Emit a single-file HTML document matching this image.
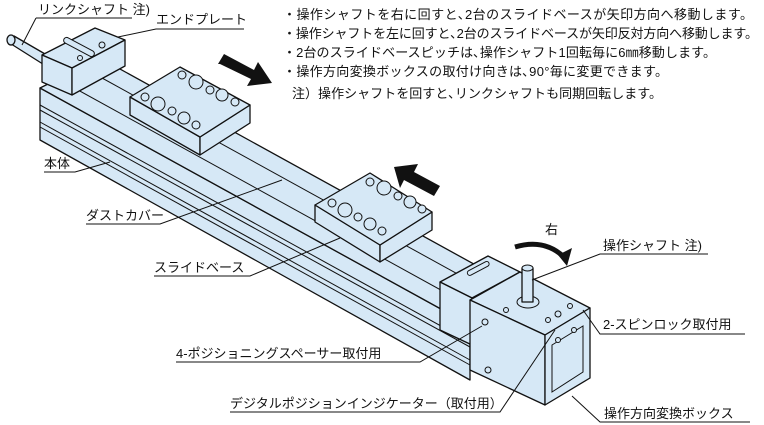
<!DOCTYPE html>
<html><head><meta charset="utf-8"><style>
body{margin:0;background:#fff}
svg{display:block}
text{font-family:"Liberation Sans","Noto Sans CJK JP",sans-serif;font-size:13px;fill:#111}
.b{fill:#d6e8f6;stroke:#111;stroke-width:1.3;stroke-linejoin:round}
.l{stroke:#111;stroke-width:1;fill:none}
.h{fill:#d6e8f6;stroke:#111;stroke-width:1}
</style></head><body>
<svg width="764" height="425" viewBox="0 0 764 425">
<polygon class="b" points="8,42 14,36 52,58 46,66"/>
<ellipse class="b" cx="11" cy="40" rx="4" ry="5"/>
<polygon class="b" points="40,88 470,325 470,380 40,140"/>
<line class="l" x1="40" y1="105" x2="470" y2="342"/>
<line class="l" x1="40" y1="110" x2="470" y2="347"/>
<line class="l" x1="40" y1="122" x2="470" y2="360"/>
<line class="l" x1="40" y1="127" x2="470" y2="365"/>
<polygon class="b" points="40,88 100,58 530,295 470,325"/>
<line class="l" x1="58" y1="79" x2="488" y2="316"/>
<line class="l" x1="82" y1="67" x2="512" y2="304"/>
<polygon class="b" points="42,55 95,28 125,40 72,68"/>
<polygon class="b" points="42,55 72,68 72,95 42,82"/>
<polygon class="b" points="72,68 125,40 125,66 72,95"/>
<rect class="h" x="62" y="44" width="34" height="6" rx="3" transform="rotate(28 79 47)"/>
<circle class="h" cx="102" cy="45" r="3"/><circle class="h" cx="80" cy="58" r="2.5"/>
<polygon class="b" points="130,97 200,137 200,155 130,115"/>
<polygon class="b" points="200,137 250,105 250,123 200,155"/>
<polygon class="b" points="130,97 180,67 250,105 200,137"/>
<g class="h"><circle cx="182" cy="75" r="4"/><circle cx="196" cy="82" r="7"/><circle cx="210" cy="90" r="4"/><circle cx="222" cy="95" r="6"/><circle cx="235" cy="102" r="4"/>
<circle cx="145" cy="97" r="4"/><circle cx="158" cy="104" r="7"/><circle cx="172" cy="111" r="4"/><circle cx="184" cy="118" r="6"/><circle cx="196" cy="125" r="4"/></g>
<polygon class="b" points="315,205 380,245 380,262 315,222"/>
<polygon class="b" points="380,245 432,212 432,230 380,262"/>
<polygon class="b" points="315,205 370,173 432,212 380,245"/>
<g class="h"><circle cx="370" cy="182" r="4"/><circle cx="384" cy="188" r="7"/><circle cx="398" cy="196" r="4"/><circle cx="410" cy="202" r="6"/><circle cx="422" cy="209" r="4"/>
<circle cx="332" cy="203" r="4"/><circle cx="345" cy="210" r="7"/><circle cx="358" cy="217" r="4"/><circle cx="370" cy="224" r="6"/><circle cx="382" cy="231" r="4"/></g>
<!-- right end plate -->
<polygon class="b" points="440,282 488,256 520,272 472,298"/>
<polygon class="b" points="440,282 472,298 472,345 440,330"/>
<rect class="h" x="466" y="266" width="24" height="5" rx="2.5" transform="rotate(-28 478 268)"/>
<!-- box -->
<polygon class="b" points="470,300 520,272 590,308 545,335"/>
<polygon class="b" points="470,300 545,335 545,405 470,370"/>
<polygon class="b" points="545,335 590,308 590,378 545,405"/>
<path class="l" d="M552,345 L583,326 L583,372 L552,392 Z"/>
<ellipse class="h" cx="528" cy="302" rx="11" ry="6"/>
<rect class="b" x="522" y="268" width="11" height="34"/>
<ellipse class="h" cx="527.5" cy="268" rx="5.5" ry="3"/>
<g class="h"><circle cx="506" cy="310" r="2.5"/><circle cx="548" cy="320" r="2.5"/><circle cx="558" cy="314" r="3"/><circle cx="570" cy="306" r="2.5"/><circle cx="485" cy="322" r="3"/><circle cx="488" cy="370" r="3"/><circle cx="558" cy="340" r="2.5"/><circle cx="574" cy="330" r="2.5"/></g>
<polygon fill="#111" points="218,64 224,54 254,70 258,62 272,83 247,86 251,79 220,64"/>
<polygon fill="#111" points="440,186 434,196 404,180 400,188 394,167 418,164 414,172 440,186"/>
<path d="M515,247 Q545,238 565,258" stroke="#111" stroke-width="5" fill="none"/>
<polygon fill="#111" points="558,255 572,248 567,266"/>
<text x="38" y="14">リンクシャフト 注)</text>
<path class="l" d="M36,18 L132,18 M36,18 L22,45"/>
<text x="156" y="24">エンドプレート</text>
<path class="l" d="M244,29 L156,29 L118,37"/>
<text x="44" y="168">本体</text>
<path class="l" d="M44,172 L75,172 L110,162"/>
<text x="86" y="220">ダストカバー</text>
<path class="l" d="M86,224 L160,224 L282,180"/>
<text x="154" y="272">スライドベース</text>
<path class="l" d="M154,276 L250,276 L340,238"/>
<text x="176" y="358">4-ポジショニングスペーサー取付用</text>
<path class="l" d="M176,362 L420,362 L482,326"/>
<text x="230" y="408">デジタルポジションインジケーター（取付用）</text>
<path class="l" d="M230,412 L500,412 L555,330"/>
<text x="603" y="250">操作シャフト 注)</text>
<path class="l" d="M708,254 L600,254 L532,280"/>
<text x="603" y="329">2-スピンロック取付用</text>
<path class="l" d="M745,334 L600,334 L583,310"/>
<text x="604" y="418">操作方向変換ボックス</text>
<path class="l" d="M750,422 L600,422 L572,396"/>
<text x="545" y="234">右</text>
<text x="283" y="19" textLength="470">・操作シャフトを右に回すと､2台のスライドベースが矢印方向へ移動します。</text>
<text x="283" y="38" textLength="475">・操作シャフトを左に回すと､2台のスライドベースが矢印反対方向へ移動します。</text>
<text x="283" y="57" textLength="433">・2台のスライドベースピッチは､操作シャフト1回転毎に6㎜移動します。</text>
<text x="283" y="76" textLength="385">・操作方向変換ボックスの取付け向きは､90°毎に変更できます。</text>
<text x="292" y="98" textLength="370">注）操作シャフトを回すと､リンクシャフトも同期回転します。</text>
</svg>
</body></html>
